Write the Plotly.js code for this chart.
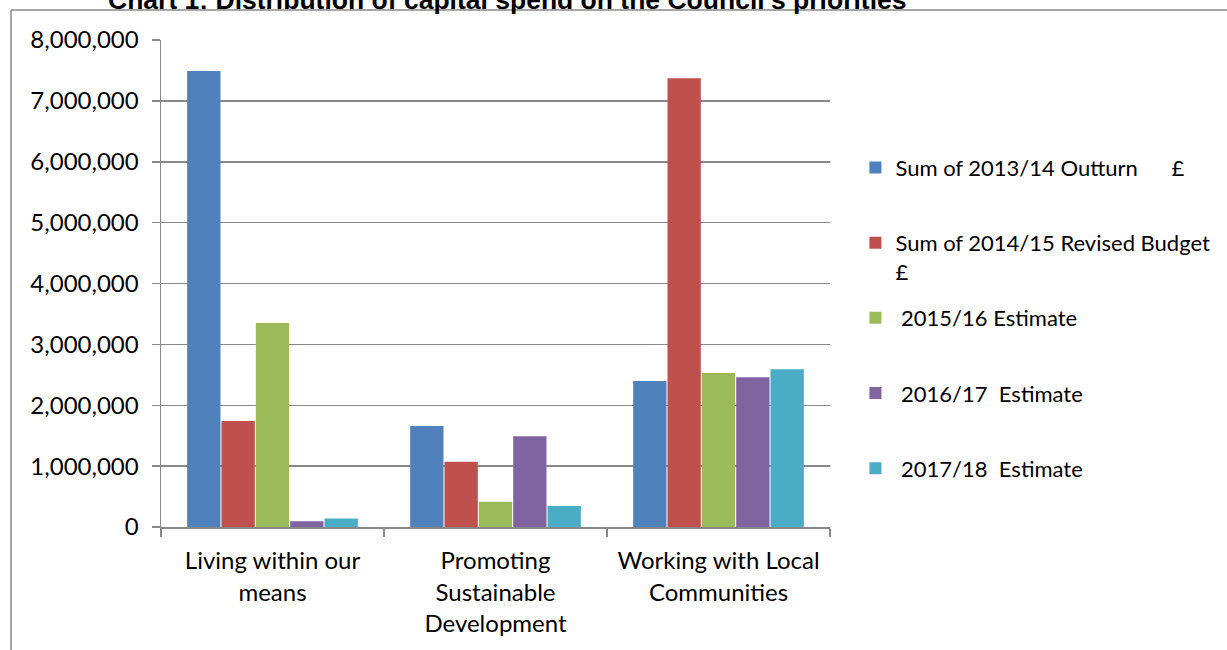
<!DOCTYPE html>
<html>
<head>
<meta charset="utf-8">
<script src="https://cdn.plot.ly/plotly-3.0.1.min.js"></script>
<style>html,body{margin:0;padding:0;background:#fff;}#chart{width:1227px;height:650px;}</style>
</head>
<body>
<div id="chart"></div>
<script>
var categories = ["Living within our<br>means", "Promoting<br>Sustainable<br>Development", "Working with Local<br>Communities"];
var seriesNames = ["Sum of 2013/14 Outturn      £", "Sum of 2014/15 Revised Budget<br>£", " 2015/16 Estimate", " 2016/17  Estimate", " 2017/18  Estimate"];
var outturn1314 = [7490000, 1660000, 2400000];
var revised1415 = [1740000, 1070000, 7370000];
var estimate1516 = [3350000, 415000, 2530000];
var estimate1617 = [95000, 1490000, 2460000];
var estimate1718 = [140000, 345000, 2590000];
var colors = ["#4F81BD", "#C0504D", "#9BBB59", "#8064A2", "#4BACC6"];
var seriesValues = [outturn1314, revised1415, estimate1516, estimate1617, estimate1718];

var font = "Lato, 'Open Sans', sans-serif";
var traces = seriesValues.map(function (vals, i) {
  var name = seriesNames[i];
  if (name.indexOf("<br>") < 0) name = name + "<br> ";
  return {
    type: "bar",
    x: categories,
    y: vals,
    name: name,
    legendgroup: "g" + i,
    marker: {color: colors[i]},
    hoverinfo: "y"
  };
});

var grey = "#888888";
var layout = {
  width: 1227,
  height: 650,
  margin: {l: 161, r: 397, t: 40, b: 123, pad: 0, autoexpand: false},
  paper_bgcolor: "#ffffff",
  plot_bgcolor: "#ffffff",
  font: {family: font, size: 24, color: "#000000"},
  title: {
    text: "Chart 1: Distribution of capital spend on the Council\u2019s priorities",
    font: {family: "'Liberation Sans', Arial, sans-serif", size: 26.5, color: "#000000", weight: "bold"},
    x: 108 / 1227, xanchor: "left", xref: "container",
    y: 1, yanchor: "middle", yref: "container"
  },
  barmode: "group",
  bargap: 0.23,
  bargroupgap: 0.03,
  showlegend: true,
  legend: {
    x: 1.038, xanchor: "left", y: 0.781, yanchor: "top",
    traceorder: "grouped",
    tracegroupgap: 15,
    valign: "top",
    font: {family: font, size: 22, color: "#000000"},
    bgcolor: "rgba(0,0,0,0)"
  },
  xaxis: {
    type: "category",
    tickson: "boundaries",
    ticks: "outside",
    ticklen: 8,
    tickcolor: grey,
    tickwidth: 1.5,
    showline: true,
    linecolor: grey,
    linewidth: 1.5,
    showgrid: false,
    ticklabelstandoff: 12,
    tickfont: {family: font, size: 24, color: "#000000"}
  },
  yaxis: {
    range: [0, 8000000],
    dtick: 1000000,
    tickformat: ",d",
    ticks: "outside",
    ticklen: 8,
    tickcolor: grey,
    tickwidth: 1.5,
    showline: true,
    linecolor: grey,
    linewidth: 1.5,
    showgrid: true,
    gridcolor: grey,
    gridwidth: 1.5,
    zeroline: false,
    ticklabelstandoff: 8,
    tickfont: {family: font, size: 24, color: "#000000"}
  },
  shapes: [
    {type: "line", xref: "paper", yref: "paper", x0: (11 - 161) / 669, x1: (11 - 161) / 669, y0: 1 + 30 / 487, y1: -0.3, line: {color: grey, width: 1.5}},
    {type: "line", xref: "paper", yref: "paper", x0: (11 - 161) / 669, x1: 1.65, y0: 1 + 30 / 487, y1: 1 + 30 / 487, line: {color: grey, width: 1.5}}
  ]
};

Plotly.newPlot("chart", traces, layout, {displayModeBar: false, staticPlot: true});
</script>
</body>
</html>
